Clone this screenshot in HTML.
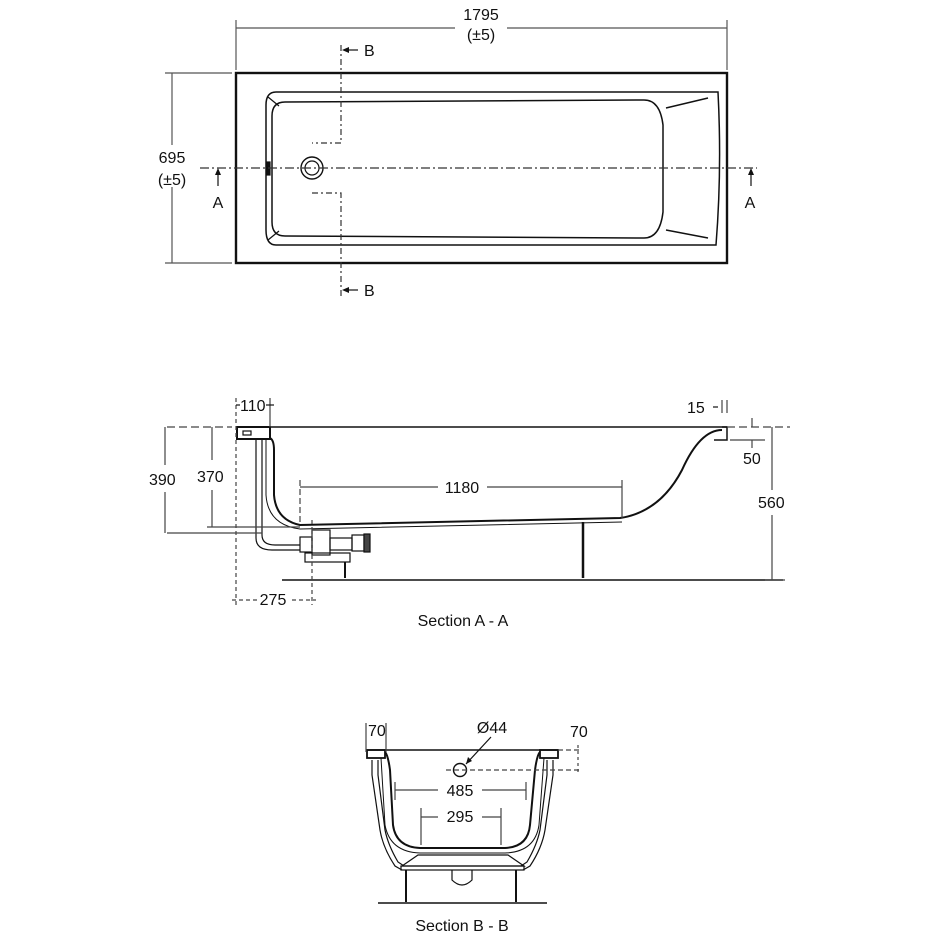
<!DOCTYPE html>
<html><head><meta charset="utf-8"><style>
html,body{margin:0;padding:0;background:#fff;}
svg{display:block;}
text{font-family:"Liberation Sans",Arial,sans-serif;fill:#111;font-size:16px;}
</style></head><body>
<svg width="940" height="940" viewBox="0 0 940 940" xmlns="http://www.w3.org/2000/svg">
<g fill="none" stroke="#111" stroke-width="1.2">
<!-- ===== TOP VIEW ===== -->
<line x1="236" y1="28" x2="727" y2="28" stroke="#555"/>
<line x1="236" y1="20" x2="236" y2="70" stroke="#555"/>
<line x1="727" y1="20" x2="727" y2="70" stroke="#555"/>
<rect x="236" y="73" width="491" height="190" stroke-width="2.4"/>
<line x1="172" y1="73" x2="172" y2="263" stroke="#555"/>
<line x1="165" y1="73" x2="232" y2="73" stroke="#555"/>
<line x1="165" y1="263" x2="232" y2="263" stroke="#555"/>
<path d="M276 92 L718 92 Q722 170 716 245 L276 245 Q266 245 266 230 L266 105 Q266 92 276 92 Z" stroke-width="1.5"/>
<path d="M285 102 L644 100 Q660 100 663 125 L663 212 Q660 238 644 238 L285 236 Q272 236 272 222 L272 116 Q272 102 285 102 Z" stroke-width="1.5"/>
<line x1="666" y1="108" x2="708" y2="98" stroke-width="1.5"/>
<line x1="666" y1="230" x2="708" y2="238" stroke-width="1.5"/>
<line x1="268" y1="97" x2="279" y2="106"/>
<line x1="268" y1="240" x2="279" y2="231"/>
<rect x="267" y="162" width="3" height="13" fill="#111"/>
<circle cx="312" cy="168" r="11" stroke-width="1.4"/>
<circle cx="312" cy="168" r="7"/>
<line x1="200" y1="168" x2="757" y2="168" stroke-dasharray="9,3,2,3" stroke="#333"/>
<path d="M341 45 V143 H312 M312 193 H341 V298" stroke-dasharray="6,3,2,3" stroke="#333"/>
<line x1="218" y1="172" x2="218" y2="186"/>
<line x1="751" y1="172" x2="751" y2="186"/>
<line x1="345" y1="50" x2="358" y2="50"/>
<line x1="345" y1="290" x2="358" y2="290"/>
</g>
<g fill="#111">
<path d="M218 168 l-3 7 h6 z"/><path d="M751 168 l-3 7 h6 z"/>
<path d="M342 50 l7 -3 v6 z"/><path d="M342 290 l7 -3 v6 z"/>
</g>
<rect x="455" y="18" width="52" height="22" fill="#fff"/>
<text x="481" y="20" text-anchor="middle">1795</text>
<text x="481" y="40" text-anchor="middle">(±5)</text>
<rect x="155" y="145" width="36" height="42" fill="#fff"/>
<text x="172" y="163" text-anchor="middle">695</text>
<text x="172" y="185" text-anchor="middle">(±5)</text>
<text x="218" y="208" text-anchor="middle">A</text>
<text x="750" y="208" text-anchor="middle">A</text>
<text x="364" y="56">B</text>
<text x="364" y="296">B</text>

<!-- ===== SECTION A-A ===== -->
<g fill="none" stroke="#111" stroke-width="1.2">
<line x1="236" y1="427" x2="727" y2="427" stroke-width="1.5"/>
<rect x="237" y="427" width="33" height="12" stroke-width="2"/>
<rect x="243" y="431" width="8" height="4"/>
<path d="M722 427 L727 427 L727 440 L714 440" stroke-width="1.5"/>
<path d="M270 438 Q274 440 274 450 L274 495 Q276 520 300 525 L620 518 Q660 512 682 470 Q700 430 722 430" stroke-width="2"/>
<path d="M266 440 L266 495 Q268 525 300 529 L622 522" stroke-width="1"/>
<path d="M262 440 L262 535 Q262 545 275 545 L300 545" stroke-width="1.2"/>
<path d="M256 440 L256 538 Q256 550 272 550 L300 550" stroke-width="1.2"/>
<rect x="300" y="537" width="12" height="15"/>
<rect x="312" y="530" width="18" height="25"/>
<rect x="305" y="553" width="45" height="9"/>
<rect x="330" y="538" width="22" height="12"/>
<rect x="352" y="535" width="12" height="16"/>
<rect x="364" y="534" width="6" height="18" fill="#444"/>
<line x1="345" y1="562" x2="345" y2="578" stroke-width="2"/>
<line x1="583" y1="522" x2="583" y2="578" stroke-width="2.5"/>
<line x1="282" y1="580" x2="783" y2="580" stroke-width="1.6"/>
<!-- dims -->
<line x1="236" y1="398" x2="236" y2="605" stroke-dasharray="4,3" stroke="#444"/>
<line x1="312" y1="520" x2="312" y2="605" stroke-dasharray="4,3" stroke="#444"/>
<line x1="232" y1="600" x2="258" y2="600" stroke-dasharray="4,3" stroke="#444"/>
<line x1="292" y1="600" x2="316" y2="600" stroke-dasharray="4,3" stroke="#444"/>
<line x1="270" y1="398" x2="270" y2="427" stroke="#444"/>
<line x1="236" y1="405" x2="240" y2="405"/><line x1="266" y1="405" x2="274" y2="405"/>
<line x1="167" y1="427" x2="232" y2="427" stroke-dasharray="8,4" stroke="#444"/>
<line x1="167" y1="533" x2="262" y2="533" stroke="#444"/>
<line x1="165" y1="427" x2="165" y2="465" stroke="#444"/><line x1="165" y1="492" x2="165" y2="533" stroke="#444"/>
<line x1="212" y1="427" x2="212" y2="460" stroke="#444"/><line x1="212" y1="490" x2="212" y2="527" stroke="#444"/>
<line x1="207" y1="527" x2="300" y2="527" stroke="#444"/>
<line x1="300" y1="480" x2="300" y2="525" stroke-dasharray="6,3" stroke="#444"/>
<line x1="622" y1="480" x2="622" y2="518" stroke="#444"/>
<line x1="300" y1="487" x2="438" y2="487" stroke="#444"/><line x1="487" y1="487" x2="622" y2="487" stroke="#444"/>
<line x1="722" y1="400" x2="722" y2="413" stroke="#444"/><line x1="727" y1="400" x2="727" y2="413" stroke="#444"/>
<line x1="713" y1="407" x2="718" y2="407"/>
<line x1="727" y1="427" x2="790" y2="427" stroke-dasharray="8,4" stroke="#444"/>
<line x1="730" y1="440" x2="765" y2="440" stroke="#444"/>
<line x1="752" y1="418" x2="752" y2="427" stroke="#444"/><line x1="752" y1="440" x2="752" y2="448" stroke="#444"/>
<line x1="772" y1="427" x2="772" y2="490" stroke="#444"/><line x1="772" y1="515" x2="772" y2="580" stroke="#444"/>
<line x1="765" y1="580" x2="785" y2="580" stroke="#444"/>
</g>
<text x="240" y="411">110</text>
<text x="687" y="413">15</text>
<text x="149" y="485">390</text>
<text x="197" y="482">370</text>
<text x="462" y="493" text-anchor="middle">1180</text>
<text x="743" y="464">50</text>
<text x="758" y="508">560</text>
<text x="273" y="605" text-anchor="middle">275</text>
<text x="463" y="626" text-anchor="middle">Section A - A</text>

<!-- ===== SECTION B-B ===== -->
<g fill="none" stroke="#111" stroke-width="1.2">
<line x1="367" y1="750" x2="558" y2="750" stroke-width="1.5"/>
<rect x="367" y="750" width="18" height="8" stroke-width="1.8"/>
<rect x="540" y="750" width="18" height="8" stroke-width="1.8"/>
<path d="M385 752 Q388 755 390 770 L393 825 Q396 847 420 848 L505 848 Q528 847 530 825 L535 770 Q537 755 540 752" stroke-width="2"/>
<path d="M381 758 L385 825 Q390 852 420 853 L505 853 Q535 852 539 825 L544 758" stroke-width="1"/>
<path d="M372 760 L372 775 L380 830 Q383 848 395 866 L402 870" stroke-width="1.2"/>
<path d="M378 760 L378 775 L385 830 Q388 845 398 862 L404 866" stroke-width="1.2"/>
<path d="M553 760 L553 775 L545 830 Q542 848 530 866 L523 870" stroke-width="1.2"/>
<path d="M547 760 L547 775 L540 830 Q537 845 527 862 L521 866" stroke-width="1.2"/>
<path d="M402 866 L418 855 L508 855 L524 866 Z" stroke-width="1.2"/>
<rect x="401" y="866" width="123" height="4"/>
<path d="M452 870 L452 880 Q462 890 472 880 L472 870" stroke-width="1.2"/>
<line x1="406" y1="870" x2="406" y2="902" stroke-width="2"/>
<line x1="516" y1="870" x2="516" y2="902" stroke-width="2"/>
<line x1="378" y1="903" x2="547" y2="903" stroke-width="1.6"/>
<circle cx="460" cy="770" r="6.5" stroke-width="1.4"/>
<line x1="446" y1="770" x2="580" y2="770" stroke-dasharray="5,3" stroke="#444"/>
<line x1="558" y1="750" x2="582" y2="750" stroke-dasharray="5,3" stroke="#444"/>
<line x1="578" y1="745" x2="578" y2="775" stroke-dasharray="3,3" stroke="#444"/>
<line x1="491" y1="737" x2="466" y2="764"/>
<line x1="386" y1="723" x2="386" y2="752" stroke="#444"/>
<line x1="366" y1="723" x2="366" y2="752" stroke="#444"/>
<line x1="395" y1="782" x2="395" y2="800" stroke="#444"/><line x1="526" y1="782" x2="526" y2="800" stroke="#444"/>
<line x1="395" y1="790" x2="438" y2="790" stroke="#444"/><line x1="482" y1="790" x2="526" y2="790" stroke="#444"/>
<line x1="421" y1="808" x2="421" y2="845" stroke="#444"/><line x1="501" y1="808" x2="501" y2="845" stroke="#444"/>
<line x1="421" y1="817" x2="438" y2="817" stroke="#444"/><line x1="482" y1="817" x2="501" y2="817" stroke="#444"/>
</g>
<path d="M466 764 l2 -7 4 4 z" fill="#111"/>
<text x="368" y="736">70</text>
<text x="492" y="733" text-anchor="middle">Ø44</text>
<text x="570" y="737">70</text>
<text x="460" y="796" text-anchor="middle">485</text>
<text x="460" y="822" text-anchor="middle">295</text>
<text x="462" y="931" text-anchor="middle">Section B - B</text>
</svg>
</body></html>
